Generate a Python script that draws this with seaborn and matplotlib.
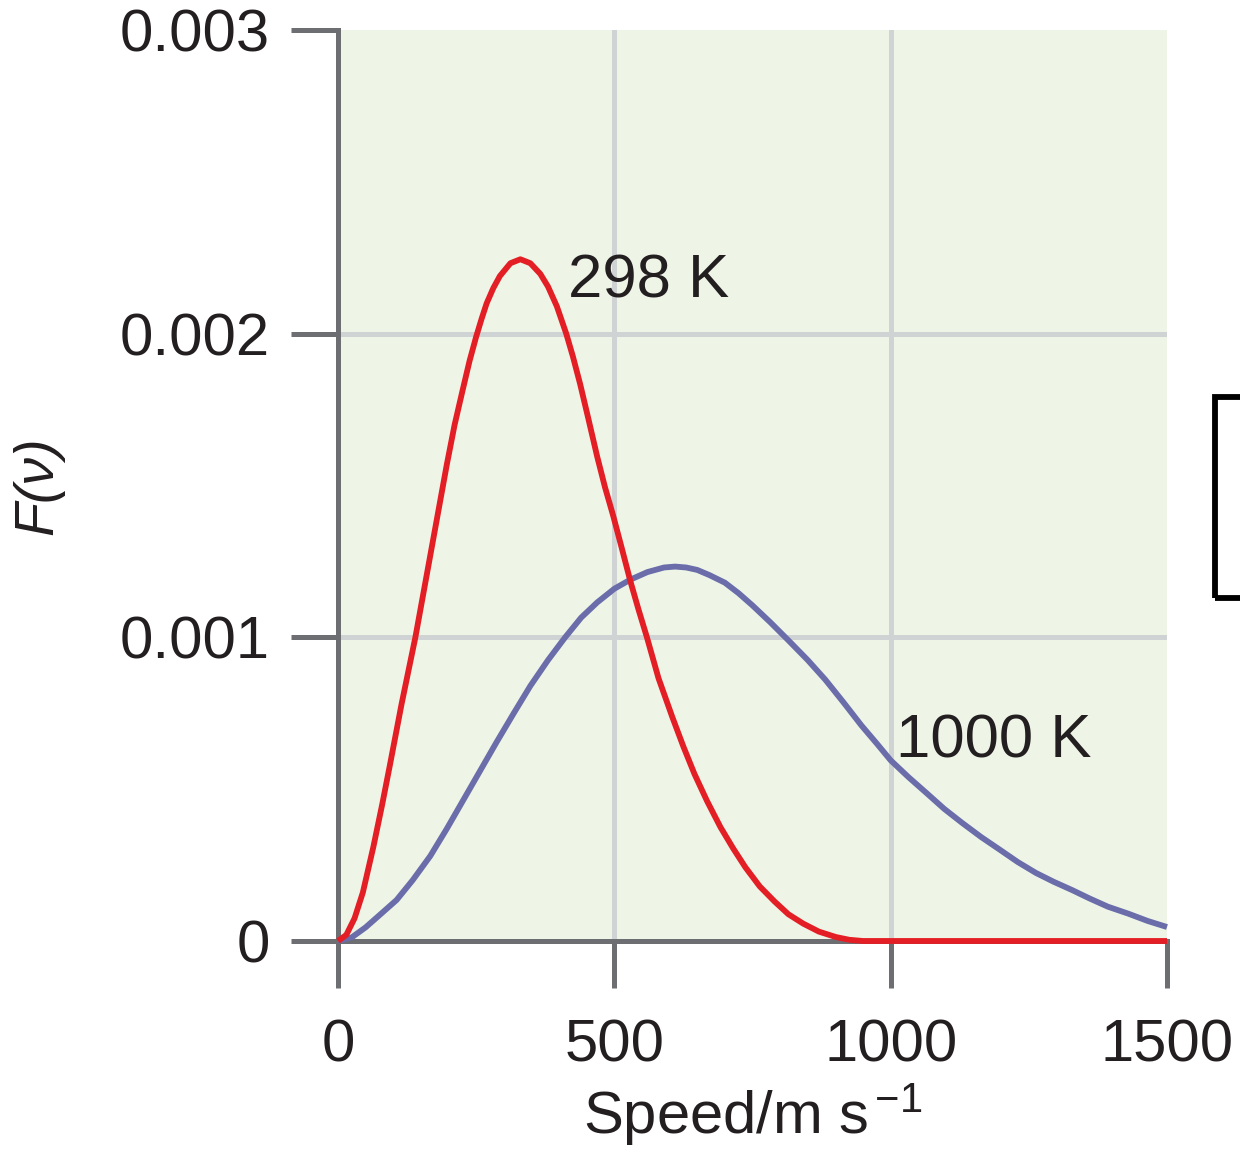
import numpy as np
import pandas as pd
import matplotlib
matplotlib.use("Agg")
import matplotlib.pyplot as plt
import seaborn as sns
from matplotlib.patches import Rectangle

# Values (F given in units of 1e-3)
speed_298 = [0, 15, 30, 45, 64, 80, 94, 115, 140, 155, 167, 182, 197, 211, 225,
             238, 250, 260, 269, 281, 293, 312, 330, 348, 366, 380, 396, 413,
             425, 438, 453, 469, 483, 498, 514, 529, 544, 559, 580, 605, 625,
             645, 668, 692, 715, 737, 763, 790, 815, 842, 870, 901, 925, 950,
             1000, 1500]
f_298 = [0, 0.02, 0.075, 0.16, 0.31, 0.45, 0.58, 0.78, 1.00, 1.15, 1.27, 1.42,
         1.57, 1.70, 1.81, 1.91, 1.99, 2.05, 2.10, 2.15, 2.19, 2.232, 2.245, 2.232,
         2.197, 2.155, 2.09, 2.00, 1.925, 1.835, 1.72, 1.595, 1.495, 1.40, 1.29,
         1.185, 1.09, 1.00, 0.865, 0.737, 0.64, 0.55, 0.46, 0.375, 0.305, 0.243,
         0.18, 0.13, 0.088, 0.057, 0.031, 0.013, 0.004, 0.0, 0.0, 0.0]

speed_1000 = [0, 25, 50, 75, 106, 135, 167, 197, 227, 257, 287, 318, 348, 380,
              411, 440, 469, 500, 529, 560, 590, 610, 630, 650, 672, 700, 725,
              750, 782, 815, 850, 882, 915, 947, 975, 1000, 1032, 1065, 1097,
              1130, 1164, 1198, 1230, 1263, 1295, 1328, 1360, 1393, 1430, 1465,
              1500]
f_1000 = [0, 0.012, 0.045, 0.085, 0.135, 0.20, 0.28, 0.37, 0.465, 0.56, 0.655,
          0.75, 0.84, 0.925, 1.00, 1.065, 1.115, 1.16, 1.19, 1.215, 1.23, 1.233,
          1.23, 1.222, 1.205, 1.18, 1.145, 1.105, 1.05, 0.99, 0.925, 0.86, 0.785,
          0.71, 0.65, 0.595, 0.54, 0.487, 0.435, 0.388, 0.342, 0.30, 0.26, 0.224,
          0.195, 0.168, 0.14, 0.113, 0.09, 0.066, 0.046]

temps = ["1000 K", "298 K"]
x_ticks = [0, 500, 1000, 1500]
y_ticks = [0, 0.001, 0.002, 0.003]
y_tick_labels = ["0", "0.001", "0.002", "0.003"]

RED = "#E31E25"
BLUE = "#6A6DAA"
BG = "#EEF5E7"
GRID = "#CFD3D4"
AXIS = "#6D6E71"
TEXT = "#231F20"

df = pd.concat([
    pd.DataFrame({"speed": speed_1000, "F": np.array(f_1000) * 1e-3, "temp": "1000 K"}),
    pd.DataFrame({"speed": speed_298, "F": np.array(f_298) * 1e-3, "temp": "298 K"}),
], ignore_index=True)

sns.set_theme(style="white")
plt.rcParams["font.family"] = ["Liberation Sans", "DejaVu Sans"]
plt.rcParams["mathtext.fontset"] = "custom"
plt.rcParams["mathtext.rm"] = "Liberation Sans"
plt.rcParams["mathtext.it"] = "Liberation Sans:italic"

fig = plt.figure(figsize=(12.4, 11.56), dpi=100)
ax = fig.add_axes([338 / 1240, 215 / 1156, 829 / 1240, 911 / 1156])
ax.set_facecolor(BG)

sns.lineplot(data=df, x="speed", y="F", hue="temp", hue_order=temps,
             palette={"298 K": RED, "1000 K": BLUE}, linewidth=4.2,
             legend=False, ax=ax)
for i, line in enumerate(ax.lines):
    line.set_clip_on(False)
    line.set_zorder(4 + i)
    line.set_solid_joinstyle("round")
    line.set_solid_capstyle("butt")

# interior grid lines only
for t in x_ticks[1:-1]:
    ax.axvline(t, color=GRID, lw=3.6, zorder=1)
for t in y_ticks[1:-1]:
    ax.axhline(t, color=GRID, lw=3.6, zorder=1)

ax.set_xlim(x_ticks[0], x_ticks[-1])
ax.set_ylim(y_ticks[0], y_ticks[-1])
ax.set_xticks(x_ticks)
ax.set_xticklabels([str(t) for t in x_ticks])
ax.set_yticks(y_ticks)
ax.set_yticklabels(y_tick_labels)

for side in ["top", "right"]:
    ax.spines[side].set_visible(False)
for side in ["left", "bottom"]:
    ax.spines[side].set_color(AXIS)
    ax.spines[side].set_linewidth(3.6)
ax.tick_params(bottom=True, left=True, direction="out", length=34, width=3.6,
               color=AXIS, labelsize=43, labelcolor=TEXT)
ax.tick_params(axis="y", pad=15)
ax.tick_params(axis="x", pad=22)

ax.set_xlabel("Speed/m s$^{\\,\\mathregular{-1}}$", fontsize=43, color=TEXT,
              labelpad=5)
ax.set_ylabel("F(ν)", fontsize=40, color=TEXT, fontstyle="italic", labelpad=40)

ax.text(417, 0.00217, "298 K", fontsize=44.5, color=TEXT, ha="left", va="center")
ax.text(1009, 0.000655, "1000 K", fontsize=44.5, color=TEXT, ha="left", va="center")

# clipped box at the right edge of the original image
fig.add_artist(Rectangle((1215 / 1240, 558 / 1156), 0.06, 201 / 1156,
                         transform=fig.transFigure, fill=False,
                         edgecolor="black", lw=4.2))

fig.savefig("out.png", dpi=100)
